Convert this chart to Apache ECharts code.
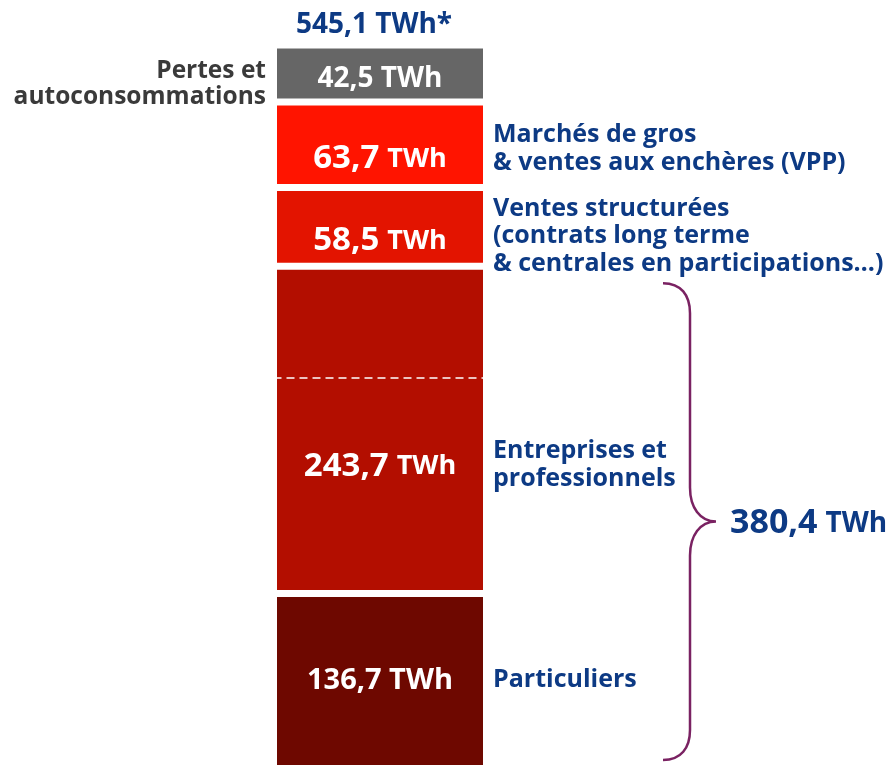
<!DOCTYPE html>
<html lang="fr">
<head>
<meta charset="UTF-8">
<title>Ventes d'électricité</title>
<script src="https://cdn.jsdelivr.net/npm/echarts@6/dist/echarts.min.js"></script>
<style>html,body{margin:0;padding:0;background:#fff;overflow:hidden}</style>
</head>
<body>
<!-- the bar runs past the bottom edge, so the chart is a little taller than the window -->
<div id="main" style="width: 890px;height: 777px;"></div>
<script type="text/javascript">
// segments, from bottom to top
var segments = [
  'Particuliers',
  'Entreprises et\nprofessionnels',
  'Ventes structurées\n(contrats long terme\n& centrales en participations…)',
  'Marchés de gros\n& ventes aux enchères (VPP)',
  'Pertes et\nautoconsommations'
];
var values = [136.7, 243.7, 58.5, 63.7, 42.5];
var total = 545.1;
var retailTotal = 380.4;
var entreprisesSplit = 297;

var colors = ['#6e0800', '#b30e00', '#e31400', '#ff1400', '#666666'];
var labelKind = ['mid', 'big', 'big', 'big', 'small'];
var labelShift = [-4, 37, 14, 14, 5];
var sideShift = [-5, 35, 9, 4, 10];
var blue = '#0d3a84';
var font = '"Open Sans", sans-serif';

function fr(v) { return v.toFixed(1).replace('.', ','); }

var myChart = echarts.init(document.getElementById('main'));

var series = values.map(function (v, i) {
  var fmt = labelKind[i] === 'big'
    ? '{n|' + fr(v) + '}{u|TWh}'
    : '{' + labelKind[i] + '|' + fr(v) + ' TWh}';
  var s = {
    type: 'bar',
    name: segments[i],
    stack: 'ventes',
    barWidth: '100%',
    data: [v],
    itemStyle: { color: colors[i], borderColor: '#fff', borderWidth: 3.5 },
    label: {
      show: true,
      position: 'inside',
      offset: [0, labelShift[i]],
      formatter: fmt,
      rich: {
        n: { fontSize: 33, fontWeight: 'bold', color: '#fff', fontFamily: font },
        u: { fontSize: 27, fontWeight: 'bold', color: '#fff', fontFamily: font, padding: [0, 0, 0, 8] },
        mid: { fontSize: 29, fontWeight: 'bold', color: '#fff', fontFamily: font },
        small: { fontSize: 28, fontWeight: 'bold', color: '#fff', fontFamily: font }
      }
    }
  };
  if (i === 1) {
    s.markLine = {
      symbol: 'none',
      silent: true,
      label: { show: false },
      lineStyle: { color: '#fff', type: [8, 5], width: 1.5 },
      data: [{ yAxis: entreprisesSplit }]
    };
  }
  return s;
});

// side labels, total and brace
series.push({
  type: 'custom',
  clip: false,
  silent: true,
  z: 10,
  data: [[0]],
  renderItem: function (params, api) {
    var half = api.size([1, 0])[0] / 2;
    var cx = api.coord([0, 0])[0];
    var left = cx - half + 3.5, right = cx + half - 3.5;
    var children = [];
    var base = 0;
    values.forEach(function (v, i) {
      var y = api.coord([0, base + v / 2])[1] + sideShift[i];
      base += v;
      var isLeft = i === values.length - 1;
      children.push({
        type: 'text',
        x: isLeft ? left - 11 : right + 10,
        y: y,
        style: {
          text: segments[i],
          fill: isLeft ? '#3a3a3a' : blue,
          fontSize: isLeft ? 24.5 : 25,
          fontWeight: 'bold',
          fontFamily: font,
          lineHeight: isLeft ? 26 : 27.5,
          align: isLeft ? 'right' : 'left',
          verticalAlign: 'middle'
        }
      });
    });

    var yTop = api.coord([0, total])[1];
    children.push({
      type: 'text',
      x: cx - 6,
      y: yTop - 20,
      style: {
        text: fr(total) + ' TWh*',
        fill: blue, fontSize: 28, fontWeight: 'bold', fontFamily: font,
        align: 'center', verticalAlign: 'middle'
      }
    });

    var t = api.coord([0, retailTotal])[1] + 17;
    var b = api.coord([0, 0])[1] - 17;
    var m = (t + b) / 2;
    var x0 = right + 180, x1 = right + 207, x2 = right + 233;
    var d = 'M' + x0 + ',' + t +
      ' C' + (x0 + 18) + ',' + t + ' ' + x1 + ',' + (t + 12) + ' ' + x1 + ',' + (t + 30) +
      ' L' + x1 + ',' + (m - 34) +
      ' C' + x1 + ',' + (m - 14) + ' ' + (x1 + 10) + ',' + m + ' ' + x2 + ',' + m +
      ' C' + (x1 + 10) + ',' + m + ' ' + x1 + ',' + (m + 14) + ' ' + x1 + ',' + (m + 34) +
      ' L' + x1 + ',' + (b - 30) +
      ' C' + x1 + ',' + (b - 12) + ' ' + (x0 + 18) + ',' + b + ' ' + x0 + ',' + b;
    children.push({
      type: 'path',
      shape: { pathData: d },
      style: { fill: 'none', stroke: '#7a2262', lineWidth: 2.5 }
    });
    children.push({
      type: 'text',
      x: x2 + 14,
      y: m + 2,
      style: {
        text: '{n|' + fr(retailTotal) + '}{u|TWh}',
        align: 'left', verticalAlign: 'middle',
        rich: {
          n: { fontSize: 34, fontWeight: 'bold', fill: blue, fontFamily: font },
          u: { fontSize: 28, fontWeight: 'bold', fill: blue, fontFamily: font, padding: [0, 0, 0, 8] }
        }
      }
    });
    return { type: 'group', children: children };
  }
});

myChart.setOption({
  animation: false,
  backgroundColor: '#fff',
  grid: { left: 273.5, right: 403.5, top: 45, bottom: 0 },
  xAxis: { type: 'category', data: ['ventes'], show: false },
  yAxis: { type: 'value', min: 0, max: total, show: false },
  series: series
});
</script>
</body>
</html>
